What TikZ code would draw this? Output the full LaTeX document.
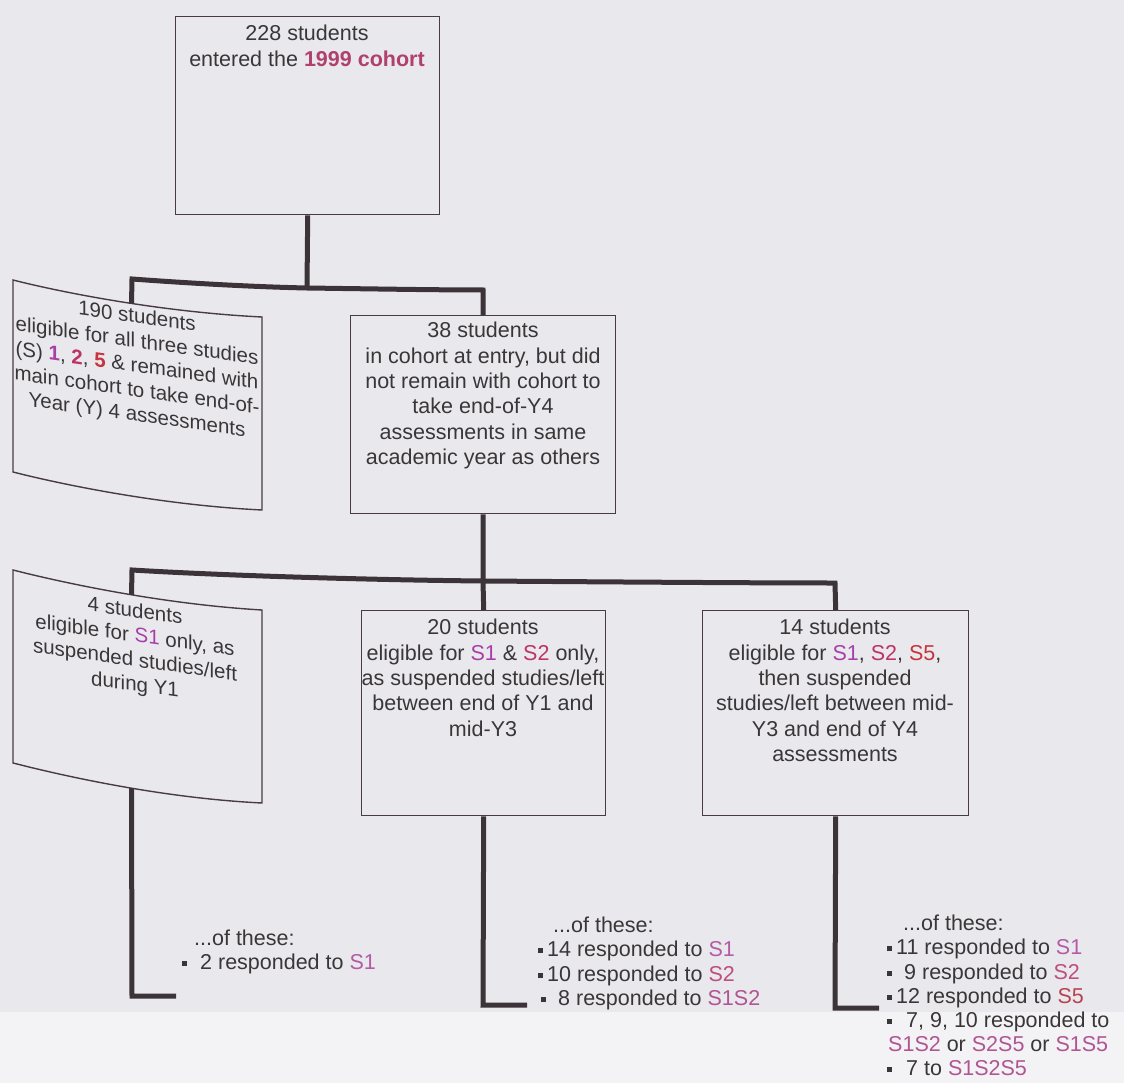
\documentclass[tikz,border=0pt]{standalone}
\usepackage{fontspec}
\setmainfont{Liberation Sans}
\definecolor{bg}{HTML}{E9E9ED}
\definecolor{bgl}{HTML}{F3F3F6}
\definecolor{ink}{HTML}{3A3638}
\definecolor{frame}{HTML}{4A3A46}
\definecolor{conncol}{HTML}{3B3337}
\definecolor{coh}{HTML}{B0406C}
\definecolor{sone}{HTML}{A83FA8}
\definecolor{stwo}{HTML}{BD3366}
\definecolor{sfive}{HTML}{C6343E}
\definecolor{lone}{HTML}{B35BA5}
\definecolor{ltwo}{HTML}{BE4E7E}
\definecolor{lfive}{HTML}{B9424E}
\definecolor{lmix}{HTML}{B05592}
\newcommand{\bul}{\rule[3.5pt]{5pt}{5pt}}
\begin{document}
\begin{tikzpicture}[x=1pt,y=-1pt,
  box/.style={draw=frame, line width=1.4pt},
  conn/.style={draw=conncol, line width=5pt, line cap=butt, line join=miter},
  txt/.style={text=ink, align=center, inner sep=0pt, font=\fontsize{21.5}{25.4}\selectfont},
  ltxt/.style={text=ink, align=center, inner sep=0pt, font=\fontsize{20.5}{24.6}\selectfont},
  list/.style={text=ink, align=left, inner sep=0pt, anchor=north west, font=\fontsize{21.5}{24.2}\selectfont}]
\fill[bg] (0,0) rectangle (1124,1083);
\fill[bgl] (0,1012) rectangle (1124,1083);
\useasboundingbox (0,0) rectangle (1124,1083);

% rectangular boxes
\node[box, anchor=north west, minimum width=264pt, minimum height=198pt, inner sep=0pt] (top) at (175,16) {};
\node[box, anchor=north west, minimum width=265pt, minimum height=198pt, inner sep=0pt] (b38) at (350,315) {};
\node[box, anchor=north west, minimum width=244pt, minimum height=205pt, inner sep=0pt] (b20) at (361,610) {};
\node[box, anchor=north west, minimum width=266pt, minimum height=205pt, inner sep=0pt] (b14) at (702,610) {};

% curved (page-curl) boxes on the left
\draw[box] (13,280) .. controls (60,292) and (160,312) .. (262,317) coordinate[pos=0.555] (Atop)
  -- (262,510) .. controls (160,505) and (60,484) .. (13,472) -- cycle;
\draw[box] (13,570) .. controls (60,582) and (160,604) .. (262,610) coordinate[pos=0.555] (Btop)
  -- (262,803) .. controls (160,798) and (60,775) .. (13,763) coordinate[pos=0.445] (Bbot) -- cycle;

% texts
\node[txt, anchor=north] (t228) at (307,25) {228 students\\entered the \textcolor{coh}{\bfseries 1999 cohort}};
\node[txt, anchor=north] (t38) at (483,322) {38 students\\in cohort at entry, but did\\not remain with cohort to\\take end-of-Y4\\assessments in same\\academic year as others};
\node[txt, anchor=north] (t20) at (483,619) {20 students\\eligible for \textcolor{sone}{S1} \& \textcolor{stwo}{S2} only,\\as suspended studies/left\\between end of Y1 and\\mid-Y3};
\node[txt, anchor=north] (t14) at (835,619) {14 students\\eligible for \textcolor{sone}{S1}, \textcolor{stwo}{S2}, \textcolor{sfive}{S5},\\then suspended\\studies/left between mid-\\Y3 and end of Y4\\assessments};
\begin{scope}[shift={(137,367)}, yslant=-0.14]
\node[ltxt, transform shape] (t190) at (0,0) {190 students\\eligible for all three studies\\(S) \textcolor{sone}{\bfseries 1}, \textcolor{stwo}{\bfseries 2}, \textcolor{sfive}{\bfseries 5} \& remained with\\main cohort to take end-of-\\Year (Y) 4 assessments};
\end{scope}
\begin{scope}[shift={(135,649)}, yslant=-0.14]
\node[ltxt, transform shape] (t4) at (0,0) {4 students\\eligible for \textcolor{sone}{S1} only, as\\suspended studies/left\\during Y1};
\end{scope}

% connectors
\coordinate (j1) at (307,288);
\coordinate (j2) at (483,581);
\coordinate (e4) at (176,996);
\coordinate (e20) at (527,1005);
\coordinate (e14) at (879,1008);
\draw[conn] (top.south) -- (j1);
\draw[conn] (Atop) -- (132,279) .. controls (200,284) and (260,287) .. (j1)
  .. controls (380,289) and (440,290) .. (483,290) -- (b38.north);
\draw[conn] (b38.south) -- (j2);
\draw[conn] (Btop) -- (132,570) .. controls (230,576) and (380,580) .. (j2)
  .. controls (620,582) and (760,583) .. (835,583) -- (b14.north);
\draw[conn] (j2) -- (b20.north);
\draw[conn] (Bbot) -- (132,996) -- (e4);
\draw[conn] (b20.south) -- (483,1005) -- (e20);
\draw[conn] (b14.south) -- (835,1008) -- (e14);

% lists
\node[list] (l4) at (182,930) {\hspace*{12pt}...of these:\\\bul\hspace{13pt}2 responded to \textcolor{lone}{S1}};
\node[list] (l20) at (538,917) {\hspace*{15pt}...of these:\\\bul\hspace{4pt}14 responded to \textcolor{lone}{S1}\\\bul\hspace{4pt}10 responded to \textcolor{ltwo}{S2}\\\hspace*{3pt}\bul\hspace{12pt}8 responded to \textcolor{lmix}{S1S2}};
\node[list] (l14) at (887,915) {\hspace*{16pt}...of these:\\\bul\hspace{4pt}11 responded to \textcolor{lone}{S1}\\\bul\hspace{12pt}9 responded to \textcolor{ltwo}{S2}\\\bul\hspace{4pt}12 responded to \textcolor{lfive}{S5}\\\bul\hspace{14pt}7, 9, 10 responded to\\\hspace*{1pt}\textcolor{lmix}{S1S2} or \textcolor{lmix}{S2S5} or \textcolor{lmix}{S1S5}\\\bul\hspace{14pt}7 to \textcolor{lmix}{S1S2S5}};
\end{tikzpicture}
\end{document}
